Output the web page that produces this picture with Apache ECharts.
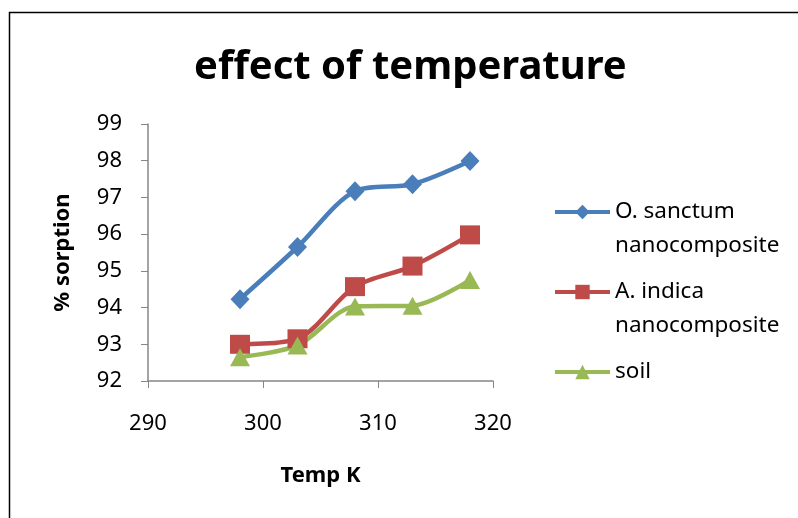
<!DOCTYPE html>
<html>
<head>
<meta charset="utf-8">
<script src="https://cdn.jsdelivr.net/npm/echarts@6/dist/echarts.min.js"></script>
<style>html,body{margin:0;padding:0;background:#fff}#c{width:798px;height:518px}</style>
</head>
<body>
<div id="c"></div>
<script>
var temps = [298, 303, 308, 313, 318];
var oSanctum = [94.23, 95.65, 97.17, 97.36, 97.99];
var aIndica = [93.0, 93.15, 94.57, 95.13, 95.98];
var soil = [92.65, 92.97, 94.03, 94.05, 94.75];
var seriesNames = ['O. sanctum\nnanocomposite', 'A. indica\nnanocomposite', 'soil'];
var xTicks = [290, 300, 310, 320];
var yTicks = [92, 93, 94, 95, 96, 97, 98, 99];

function pairs(xs, ys) { return xs.map(function (x, i) { return [x, ys[i]]; }); }

var font = 'Noto Sans, Open Sans, sans-serif';
var axisColor = '#868686';
var chart = echarts.init(document.getElementById('c'));
chart.setOption({
  animation: false,
  backgroundColor: '#fff',
  title: {
    text: 'effect of temperature',
    left: 194,
    top: 48,
    padding: 0,
    textStyle: { fontFamily: font, fontWeight: 'bold', fontSize: 40, color: '#000' }
  },
  graphic: [{
    type: 'rect',
    shape: { x: 9.5, y: 12.5, width: 820, height: 540 },
    style: { fill: 'none', stroke: '#000', lineWidth: 1.5 },
    silent: true
  }],
  grid: { left: 148, right: 305, top: 124, bottom: 137 },
  legend: {
    orient: 'vertical',
    left: 553,
    top: 161,
    padding: 0,
    itemWidth: 55,
    itemHeight: 18,
    itemGap: -22,
    lineStyle: { width: 4 },
    formatter: function (name) { return ' \n' + name + (name.indexOf('\n') < 0 ? '\n ' : ''); },
    textStyle: { fontFamily: font, fontSize: 22.5, color: '#000', lineHeight: 34 },
    data: seriesNames
  },
  xAxis: {
    type: 'value',
    min: xTicks[0], max: xTicks[xTicks.length - 1], interval: 10,
    name: 'Temp K', nameLocation: 'middle', nameGap: 84,
    nameTextStyle: { fontFamily: font, fontWeight: 'bold', fontSize: 22, color: '#000' },
    axisLine: { lineStyle: { color: axisColor, width: 1.5 } },
    axisTick: { show: true, length: 7, lineStyle: { color: axisColor } },
    splitLine: { show: false },
    axisLabel: { fontFamily: font, fontSize: 22, color: '#000', margin: 32 }
  },
  yAxis: {
    type: 'value',
    min: yTicks[0], max: yTicks[yTicks.length - 1], interval: 1,
    name: '% sorption', nameLocation: 'middle', nameGap: 74,
    nameTextStyle: { fontFamily: font, fontWeight: 'bold', fontSize: 22, color: '#000' },
    axisLine: { show: true, lineStyle: { color: axisColor, width: 1.5 } },
    axisTick: { show: true, length: 7, lineStyle: { color: axisColor } },
    splitLine: { show: false },
    axisLabel: { fontFamily: font, fontSize: 22, color: '#000', margin: 26 }
  },
  series: [
    {
      name: seriesNames[0], type: 'line', smooth: 0.3,
      data: pairs(temps, oSanctum),
      symbol: 'diamond', symbolSize: [19, 20],
      itemStyle: { color: '#4A7EBB' },
      lineStyle: { width: 4.5, color: '#4A7EBB' }
    },
    {
      name: seriesNames[1], type: 'line', smooth: 0.3,
      data: pairs(temps, aIndica),
      symbol: 'rect', symbolSize: [20, 19],
      itemStyle: { color: '#BE4B48' },
      lineStyle: { width: 4.5, color: '#BE4B48' }
    },
    {
      name: seriesNames[2], type: 'line', smooth: 0.3,
      data: pairs(temps, soil),
      symbol: 'triangle', symbolSize: [20, 18],
      itemStyle: { color: '#98B954' },
      lineStyle: { width: 4.5, color: '#98B954' }
    }
  ]
});
</script>
</body>
</html>
